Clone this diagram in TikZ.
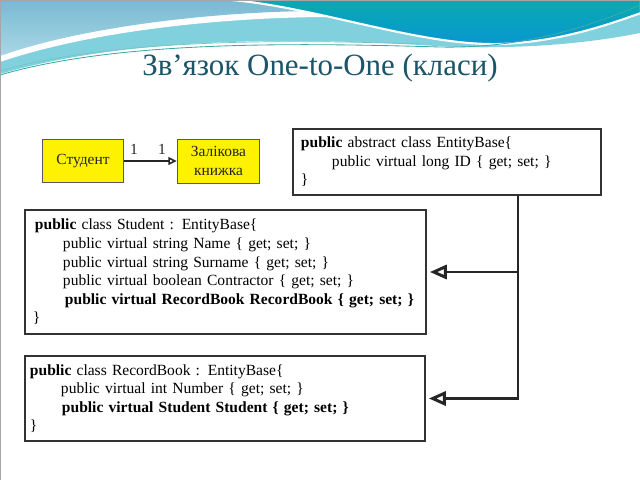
\documentclass[tikz,border=0pt]{standalone}
\usepackage{fontspec}
\setmainfont{Liberation Serif}
\usetikzlibrary{arrows.meta,calc}
\definecolor{titlecol}{RGB}{28,84,104}
\definecolor{bandcyan}{RGB}{128,208,222}
\definecolor{steelA}{RGB}{120,185,210}
\definecolor{steelB}{RGB}{170,215,230}
\definecolor{tealtop}{RGB}{10,170,175}
\definecolor{tealbot}{RGB}{8,150,210}
\definecolor{thinline}{RGB}{60,170,165}
\tikzset{
  classbox/.style={draw=black!80, line width=1.4pt, fill=white, anchor=north west,
    align=left, inner ysep=0pt, font=\fontsize{11.05}{13.2}\selectfont},
  yelbox/.style={draw=black!65, fill=yellow, line width=0.7pt, align=center,
    text=black!85, font=\fontsize{11}{13.5}\selectfont},
  mult/.style={text=black!85, font=\fontsize{11}{13}\selectfont, inner sep=0pt},
  inh/.style={line width=2.1pt, draw=black!85,
    -{Triangle[open,length=12pt,width=10pt]}, shorten >=2pt},
  assoc/.style={line width=1.1pt, draw=black!85,
    -{Triangle[open,length=6pt,width=5.5pt]}, shorten >=0.5pt}
}
\begin{document}
\begin{tikzpicture}[x=0.025cm,y=-0.025cm]
\useasboundingbox (0,0) rectangle (640,480);
\fill[white] (0,0) rectangle (640,480);
% background waves
\fill[bandcyan] (0,0) -- (640,0) -- (640,33) .. controls (570,47) and (490,50) .. (420,45)
  .. controls (300,38) and (130,36) .. (0,74) -- cycle;
\fill[white] (0,0) -- (480,0) -- (480,42) .. controls (430,30) and (390,18) .. (330,17)
  .. controls (240,17) and (100,28) .. (0,62) -- cycle;
\shade[top color=steelA, bottom color=steelB] (0,0) -- (470,0) -- (470,38)
  .. controls (420,24) and (380,11) .. (320,11)
  .. controls (230,11) and (90,24) .. (0,56) -- cycle;
\shade[top color=tealtop, bottom color=tealbot, draw=white, line width=1.5pt]
  (232,0) .. controls (320,8) and (420,46) .. (500,44)
  .. controls (560,42) and (610,24) .. (641,13) -- (641,-1) -- (232,-1) -- cycle;
\draw[thinline, line width=0.6pt] (0,75) .. controls (120,40) and (300,43) .. (440,47)
  .. controls (530,49) and (600,22) .. (640,5);
\draw[thinline!70, line width=0.5pt] (0,71) .. controls (120,37) and (300,40) .. (420,44);
\draw[black!35, line width=0.5pt] (0,0) rectangle (640,480);
% title
\node[text=titlecol, font=\fontsize{22}{26}\selectfont] (title) at (320,68) {Зв’язок One-to-One (класи)};
% small diagram
\node[yelbox, minimum width=2cm, minimum height=1.075cm] (stud) at (83,161) {Студент};
\node[yelbox, minimum width=2.025cm, minimum height=1.1cm] (book) at (218.5,161) {Залікова\\книжка};
\draw[assoc] (stud.east) -- (book.west);
\node[mult] (m1) at (134,149) {1};
\node[mult] (m2) at (162,149) {1};
% classes
\node[classbox, minimum width=7.7cm, minimum height=1.65cm, text width=7.5cm, inner xsep=0.1cm] (base) at (292,128)
{\hspace*{0.1cm}\textbf{public} abstract class EntityBase\{\\
\hspace*{0.875cm}public virtual long ID \{ get; set; \}\\
\hspace*{0.1cm}\}};
\node[classbox, minimum width=10.025cm, minimum height=3.1cm, text width=9.825cm, inner xsep=0.1cm] (student) at (24,209)
{\hspace*{0.15cm}\textbf{public} class Student : EntityBase\{\\
\hspace*{0.85cm}public virtual string Name \{ get; set; \}\\
\hspace*{0.85cm}public virtual string Surname \{ get; set; \}\\
\hspace*{0.85cm}public virtual boolean Contractor \{ get; set; \}\\
\hspace*{0.9cm}\textbf{public virtual RecordBook RecordBook \{ get; set; \}}\\
\hspace*{0.1cm}\}};
\node[classbox, minimum width=10cm, minimum height=2.125cm, text width=9.8cm, inner xsep=0.1cm] (record) at (24,355)
{\hspace*{0.025cm}\textbf{public} class RecordBook : EntityBase\{\\
\hspace*{0.8cm}public virtual int Number \{ get; set; \}\\
\hspace*{0.825cm}\textbf{public virtual Student Student \{ get; set; \}}\\
\hspace*{0.025cm}\}};
\coordinate (trunk) at (518,0);
\draw[inh] (base.south -| trunk) |- (student.east);
\draw[inh] (base.south -| trunk) |- (record.east);
\end{tikzpicture}
\end{document}
